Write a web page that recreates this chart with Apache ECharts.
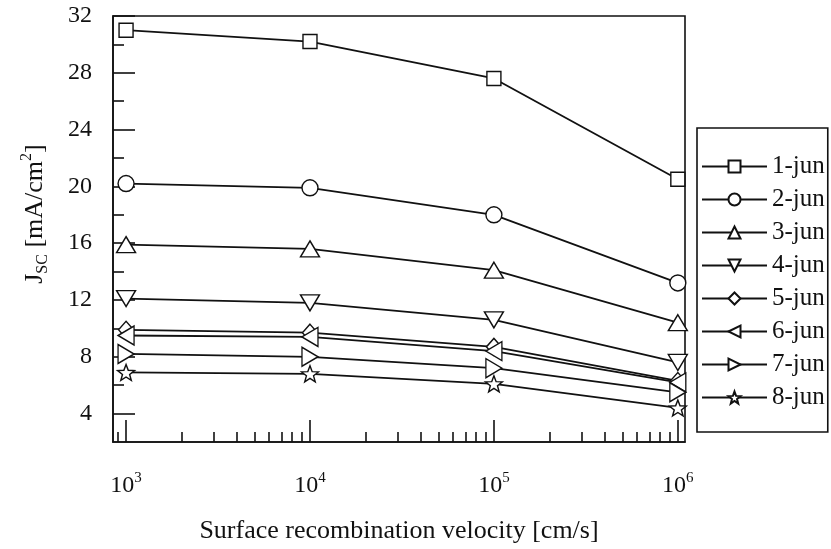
<!DOCTYPE html>
<html>
<head>
<meta charset="utf-8">
<script src="https://cdn.jsdelivr.net/npm/echarts@6/dist/echarts.min.js"></script>
<style>
  html, body { margin: 0; background: #fff; }
  #chart { width: 831px; height: 549px; }
</style>
</head>
<body>
<div id="chart"></div>
<script>
// surface recombination velocity [cm/s]
const velocity = [1e3, 1e4, 1e5, 1e6]
const seriesNames = ['1-jun', '2-jun', '3-jun', '4-jun', '5-jun', '6-jun', '7-jun', '8-jun']
// Jsc [mA/cm2]
const jsc1 = [31.0, 30.2, 27.6, 20.5]
const jsc2 = [20.2, 19.9, 18.0, 13.2]
const jsc3 = [15.9, 15.6, 14.1, 10.4]
const jsc4 = [12.1, 11.8, 10.6, 7.6]
const jsc5 = [9.9, 9.7, 8.7, 6.3]
const jsc6 = [9.5, 9.4, 8.4, 6.2]
const jsc7 = [8.2, 8.0, 7.2, 5.5]
const jsc8 = [6.9, 6.8, 6.1, 4.4]

const xMajorTicks = [1e3, 1e4, 1e5, 1e6]
const xMinorTicks = [900, 2e3, 3e3, 4e3, 5e3, 6e3, 7e3, 8e3, 9e3,
  2e4, 3e4, 4e4, 5e4, 6e4, 7e4, 8e4, 9e4,
  2e5, 3e5, 4e5, 5e5, 6e5, 7e5, 8e5, 9e5]
const yMajorTicks = [4, 8, 12, 16, 20, 24, 28, 32]
const yMinorTicks = [6, 10, 14, 18, 22, 26, 30]

const FONT = 'Liberation Serif'
const INK = '#111'

// open five-point star
const starPath = (() => {
  const pts = []
  for (let i = 0; i < 10; i++) {
    const r = i % 2 ? 0.42 : 1
    const a = -Math.PI / 2 + i * Math.PI / 5
    pts.push((50 + 50 * r * Math.cos(a)).toFixed(1) + ' ' + (50 + 50 * r * Math.sin(a)).toFixed(1))
  }
  return 'path://M' + pts.join(' L') + ' Z'
})()

const marks = [
  { symbol: 'rect', size: [14, 14], rotate: 0 },
  { symbol: 'circle', size: 16, rotate: 0 },
  { symbol: 'triangle', size: [19, 16], rotate: 0 },
  { symbol: 'triangle', size: [19, 16], rotate: 180 },
  { symbol: 'diamond', size: [15, 17], rotate: 0 },
  { symbol: 'triangle', size: [19, 16], rotate: 90 },
  { symbol: 'triangle', size: [19, 16], rotate: -90 },
  { symbol: starPath, size: [17, 16], rotate: 0 }
]
const allJsc = [jsc1, jsc2, jsc3, jsc4, jsc5, jsc6, jsc7, jsc8]

const xMin = 2.929, xMax = 6.039

const chart = echarts.init(document.getElementById('chart'))

chart.setOption({
  animation: false,
  backgroundColor: '#fff',
  color: [INK],
  textStyle: { fontFamily: FONT, color: INK },
  grid: {
    left: 113, right: 146, top: 16, bottom: 104.5,
    show: true, borderColor: INK, borderWidth: 1.6, backgroundColor: 'transparent'
  },
  legend: {
    orient: 'vertical',
    left: 697, top: 128,
    padding: [26, 3, 22, 4],
    itemWidth: 65, itemHeight: 15, itemGap: 8,
    borderColor: INK, borderWidth: 1.6, backgroundColor: '#fff',
    textStyle: { fontFamily: FONT, fontSize: 25, color: INK },
    data: seriesNames
  },
  xAxis: [{
    type: 'value', min: xMin, max: xMax, position: 'bottom',
    name: 'Surface recombination velocity [cm/s]',
    nameLocation: 'middle', nameGap: 76,
    nameTextStyle: { fontFamily: FONT, fontSize: 26, color: INK },
    axisLine: { lineStyle: { color: INK, width: 1.6 } },
    axisTick: { inside: true, length: 22, lineStyle: { color: INK, width: 1.6 },
      customValues: xMajorTicks.map(v => Math.log10(v)) },
    axisLabel: {
      margin: 29,
      customValues: xMajorTicks.map(v => Math.log10(v)),
      formatter: v => '{b|10}{sup|' + Math.round(v) + '}',
      rich: {
        b: { fontFamily: FONT, fontSize: 24, color: INK, lineHeight: 30 },
        sup: { fontFamily: FONT, fontSize: 15, color: INK, lineHeight: 15, verticalAlign: 'top' }
      }
    },
    splitLine: { show: false }
  }, {
    type: 'value', min: xMin, max: xMax, position: 'bottom',
    axisLine: { show: false },
    axisTick: { inside: true, length: 10, lineStyle: { color: INK, width: 1.6 },
      customValues: xMinorTicks.map(v => Math.log10(v)) },
    axisLabel: { show: false },
    splitLine: { show: false }
  }],
  yAxis: [{
    type: 'value', min: 2, max: 32, position: 'left',
    name: 'J{sub|SC} [mA/cm{sup|2}]',
    nameLocation: 'middle', nameGap: 62,
    nameTextStyle: {
      fontFamily: FONT, fontSize: 26, color: INK, lineHeight: 32,
      padding: [0, 0, 0, 30],
      rich: {
        sub: { fontFamily: FONT, fontSize: 16, color: INK, lineHeight: 16, verticalAlign: 'bottom' },
        sup: { fontFamily: FONT, fontSize: 16, color: INK, lineHeight: 16, verticalAlign: 'top' }
      }
    },
    axisLine: { lineStyle: { color: INK, width: 1.6 } },
    axisTick: { inside: true, length: 22, lineStyle: { color: INK, width: 1.6 }, customValues: yMajorTicks },
    axisLabel: { margin: 21, fontFamily: FONT, fontSize: 24, color: INK, customValues: yMajorTicks },
    splitLine: { show: false }
  }, {
    type: 'value', min: 2, max: 32, position: 'left',
    axisLine: { show: false },
    axisTick: { inside: true, length: 11, lineStyle: { color: INK, width: 1.6 }, customValues: yMinorTicks },
    axisLabel: { show: false },
    splitLine: { show: false }
  }],
  series: allJsc.map((vals, i) => ({
    name: seriesNames[i],
    type: 'line',
    xAxisIndex: 0, yAxisIndex: 0,
    data: velocity.map((v, k) => [Math.log10(v), vals[k]]),
    symbol: marks[i].symbol,
    symbolSize: marks[i].size,
    symbolRotate: marks[i].rotate,
    showAllSymbol: true,
    clip: false,
    lineStyle: { color: INK, width: 1.8 },
    itemStyle: { color: '#fff', borderColor: INK, borderWidth: 1.4 },
    emphasis: { disabled: true }
  }))
})
</script>
</body>
</html>
